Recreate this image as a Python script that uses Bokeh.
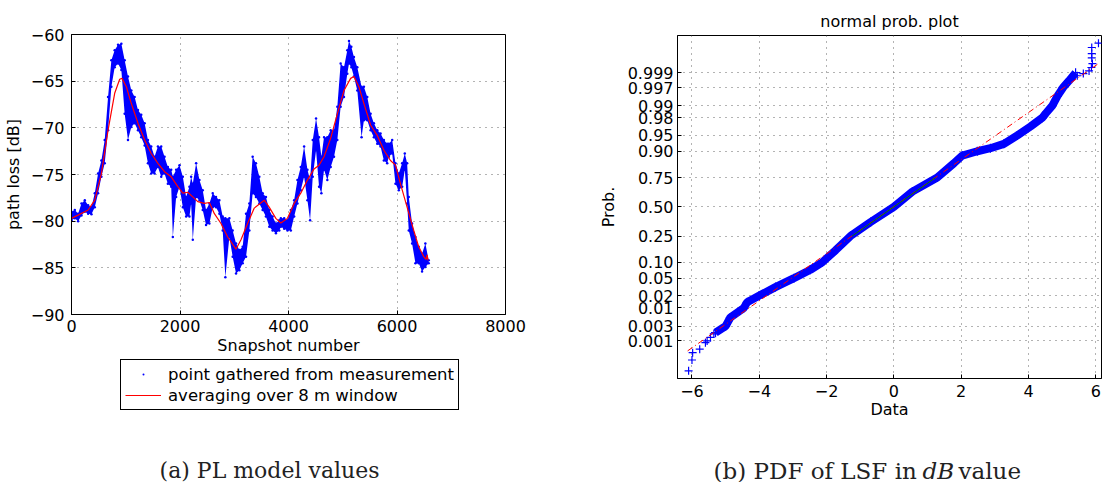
from statistics import NormalDist
from bokeh.plotting import figure
from bokeh.layouts import row, column
from bokeh.models import FixedTicker, Legend, LegendItem, ColumnDataSource
from bokeh.embed import file_html
from bokeh.resources import INLINE
from bokeh.core.properties import value

# ---------------- left panel: path loss vs snapshot ----------------
snap = [0, 61, 122, 184, 245, 306, 368, 429, 490, 551, 612, 674, 735, 796, 858, 919, 980,
        1041, 1103, 1164, 1225, 1286, 1348, 1409, 1470, 1531, 1593, 1654, 1715, 1776, 1838,
        1868, 1929, 1991, 2052, 2113, 2174, 2205, 2236, 2297, 2358, 2419, 2480, 2542, 2603,
        2664, 2726, 2787, 2836, 2910, 2971, 3033, 3094, 3155, 3217, 3278, 3339, 3400, 3462,
        3523, 3584, 3646, 3707, 3768, 3830, 3859, 3920, 3981, 4043, 4104, 4165, 4226, 4288,
        4349, 4398, 4447, 4508, 4563, 4606, 4655, 4716, 4778, 4839, 4900, 4961, 5023, 5084,
        5115, 5158, 5206, 5268, 5347, 5390, 5452, 5513, 5574, 5636, 5697, 5758, 5819, 5850,
        5911, 5972, 6033, 6095, 6144, 6187, 6217, 6278, 6340, 6401, 6462, 6523, 6584]
pl_upper = [-79.0, -78.8, -79.2, -78.1, -77.75, -78.3, -78.5, -77.0, -74.9, -73.5, -71.3,
            -66.7, -62.75, -61.7, -61.1, -61.0, -62.75, -64.5, -66.0, -66.7, -68.1, -68.6,
            -69.5, -71.3, -72.0, -73.1, -72.0, -72.0, -73.1, -74.2, -74.5, -75.25, -74.5,
            -74.0, -75.25, -77.4, -76.3, -75.25, -76.0, -73.8, -75.6, -76.7, -78.8, -78.1,
            -77.0, -77.4, -77.75, -79.5, -79.7, -79.7, -81.0, -82.4, -83.1, -82.75, -79.2,
            -78.1, -73.1, -73.8, -75.25, -77.0, -77.4, -78.8, -79.5, -80.25, -79.9, -79.7,
            -79.7, -79.9, -78.8, -77.75, -75.6, -74.2, -72.0, -74.5, -75.6, -71.3, -69.0,
            -71.0, -73.1, -71.0, -71.0, -70.25, -70.25, -67.75, -63.1, -63.5, -61.7, -60.7,
            -61.3, -62.4, -63.5, -65.6, -65.6, -66.7, -68.5, -69.5, -70.25, -70.6, -71.3,
            -71.7, -71.7, -71.3, -73.8, -74.9, -73.8, -72.75, -73.8, -77.4, -80.25, -81.7,
            -82.75, -83.5, -82.4, -84.2]
pl_lower = [-79.9, -79.7, -80.0, -79.4, -79.0, -79.2, -79.25, -78.5, -77.0, -75.25, -73.8,
            -70.25, -65.6, -63.5, -63.1, -63.8, -68.5, -71.3, -69.9, -69.5, -70.25, -71.0,
            -71.9, -73.8, -74.9, -74.9, -74.2, -75.25, -74.9, -76.0, -76.3, -81.7, -77.4,
            -76.3, -78.5, -79.5, -79.5, -78.1, -82.0, -77.4, -77.75, -78.8, -80.4, -80.25,
            -78.5, -78.5, -79.2, -81.0, -86.0, -81.7, -83.8, -85.6, -85.25, -84.5, -83.8,
            -81.0, -77.0, -77.4, -78.1, -78.8, -79.5, -80.6, -81.0, -81.3, -81.0, -80.6,
            -80.8, -81.0, -81.0, -79.5, -78.1, -76.7, -75.25, -77.75, -79.9, -75.25, -72.4,
            -76.3, -77.0, -74.5, -75.6, -74.2, -73.1, -71.3, -67.75, -66.7, -64.2, -63.1,
            -63.5, -64.5, -66.0, -71.0, -69.2, -69.2, -70.25, -71.0, -71.7, -72.0, -73.5,
            -73.8, -73.1, -72.75, -76.0, -76.7, -76.3, -74.5, -78.1, -81.0, -82.4, -84.5,
            -84.5, -85.4, -84.9, -84.5]

avg_snap = [0, 122, 306, 429, 551, 674, 796, 888, 931, 1011, 1103, 1225, 1348, 1470, 1593,
            1715, 1838, 1960, 2052, 2144, 2236, 2328, 2450, 2542, 2634, 2756, 2879, 3032,
            3124, 3246, 3369, 3553, 3644, 3767, 3859, 3981, 4104, 4226, 4349, 4471, 4563,
            4655, 4778, 4900, 5023, 5145, 5206, 5298, 5390, 5513, 5635, 5758, 5880, 5972,
            6064, 6186, 6309, 6401, 6493, 6535, 6554, 6572]
avg_pl = [-79.7, -79.35, -78.8, -77.75, -74.9, -70.25, -66.3, -64.8, -64.7, -65.6, -67.4,
          -69.5, -71.3, -72.75, -73.8, -74.7, -75.25, -76.3, -77.0, -76.9, -77.4, -77.9,
          -78.1, -78.0, -79.2, -80.25, -81.7, -83.0, -82.0, -80.25, -78.6, -77.75, -78.5,
          -79.7, -80.2, -79.7, -78.1, -77.0, -75.6, -74.4, -74.0, -73.1, -71.1, -68.5,
          -66.0, -64.7, -64.5, -65.6, -67.4, -69.7, -70.8, -72.4, -73.5, -74.0, -76.0,
          -78.5, -81.0, -82.75, -83.8, -84.1, -83.6, -84.2]

left_xticks = [0, 2000, 4000, 6000, 8000]
left_yticks = [-90, -85, -80, -75, -70, -65, -60]
legend_labels = ["point gathered from measurement", "averaging over 8 m window"]

# ---------------- right panel: normal probability plot ----------------
band_data = [-5.30, -5.00, -4.86, -4.46, -4.36, -4.01, -3.52, -2.97, -2.48, -2.13, -1.73,
             -1.29, -0.69, 0.0, 0.55, 1.29, 1.78, 2.03, 2.48, 2.87, 3.27, 3.67, 4.06, 4.41,
             4.51, 4.71, 4.86, 5.03, 5.20, 5.40]
band_quant = [-2.90, -2.75, -2.55, -2.33, -2.20, -2.05, -1.85, -1.645, -1.45, -1.28, -1.0,
              -0.674, -0.35, 0.0, 0.35, 0.674, 1.0, 1.18, 1.28, 1.35, 1.45, 1.645, 1.85,
              2.05, 2.15, 2.33, 2.55, 2.75, 2.90, 3.09]
tail_data = [-6.10, -6.00, -5.98, -5.77, -5.60, -5.55, -5.45, -5.35,
             5.45, 5.63, 5.80, 5.87, 5.90, 5.88, 5.88, 5.88, 6.08]
tail_quant = [-3.78, -3.53, -3.36, -3.28, -3.13, -3.09, -3.01, -2.93,
              3.02, 3.07, 3.13, 3.21, 3.30, 3.43, 3.53, 3.67, 3.77]
ref_data = [-6.13, 6.08]
ref_quant = [-3.32, 3.30]
quart_data = [-1.24, 1.24]
quart_quant = [-0.674, 0.674]

prob_ticks = [0.001, 0.003, 0.01, 0.02, 0.05, 0.10, 0.25, 0.50, 0.75, 0.90, 0.95, 0.98,
              0.99, 0.997, 0.999]
prob_labels = ["0.001", "0.003", "0.01", "0.02", "0.05", "0.10", "0.25", "0.50", "0.75",
               "0.90", "0.95", "0.98", "0.99", "0.997", "0.999"]
right_xticks = [-6, -4, -2, 0, 2, 4, 6]

cap_a = "(a) PL model values"
cap_b_text = ["(b) PDF of LSF in", "dB", "value"]
cap_b_style = ["normal", "italic", "normal"]

FONT = "DejaVu Sans"
SERIF = "DejaVu Serif"


def style(p):
    p.background_fill_color = "white"
    p.border_fill_color = "white"
    p.outline_line_color = "black"
    p.outline_line_width = 1
    for ax in (p.xaxis, p.yaxis):
        ax.axis_line_color = "black"
        ax.major_tick_line_color = "black"
        ax.major_tick_in = 4
        ax.major_tick_out = 0
        ax.minor_tick_line_color = None
        ax.major_label_text_font = FONT
        ax.major_label_text_font_size = "16px"
        ax.major_label_text_color = "black"
        ax.axis_label_text_font = FONT
        ax.axis_label_text_font_size = "16px"
        ax.axis_label_text_font_style = "normal"
        ax.axis_label_text_color = "black"
    p.grid.grid_line_color = "#666666"
    p.grid.grid_line_dash = "1 5"
    p.grid.grid_line_width = 1


def blank(w, h, x0, x1):
    # strip whose frame is aligned (by the column layout) with the plot frame above;
    # its x range is expressed in page pixels across that frame
    f = figure(width=w, height=h, x_range=(x0, x1), y_range=(0, h), output_backend="svg",
               toolbar_location=None, min_border=0, min_border_left=0, min_border_right=0,
               min_border_top=0, min_border_bottom=0)
    f.axis.visible = False
    f.grid.visible = False
    f.outline_line_color = None
    f.background_fill_color = "white"
    f.border_fill_color = "white"
    return f


# ---- left plot
left = figure(width=590, height=358, x_range=(0, 8000), y_range=(-90, -60),
              output_backend="svg", toolbar_location=None,
              min_border_left=70, min_border_right=85, min_border_top=34,
              min_border_bottom=44)
style(left)
left.xaxis.ticker = FixedTicker(ticks=left_xticks)
left.yaxis.ticker = FixedTicker(ticks=left_yticks)
left.xaxis.axis_label = "Snapshot number"
left.yaxis.axis_label = "path loss [dB]"
left.xaxis.major_label_standoff = 5
left.xaxis.axis_label_standoff = 1
left.yaxis.major_label_standoff = 7
left.yaxis.axis_label_standoff = 5

left.varea(x=snap, y1=pl_lower, y2=pl_upper, fill_color="#0000ff", fill_alpha=1)
left.scatter(snap + snap, pl_upper + pl_lower, marker="circle", size=2.5,
             fill_color="#0000ff", line_color=None)
left.line(avg_snap, avg_pl, line_color="#ff0000", line_width=1.2)

# ---- legend + caption (a) strip under the left plot (frame spans page x 70..505)
lbot = blank(590, 124, 70, 505)
# legend keys: one sample each, kept below the strip's visible range
dot_key = lbot.scatter(x=[100], y=[-50], marker="dot", size=6, line_color="#0000ff",
                       fill_color="#0000ff", line_width=2)
line_key = lbot.line(x=[100, 120], y=[-50, -50], line_color="#ff0000", line_width=1.2)
legend = Legend(items=[LegendItem(label=legend_labels[0], renderers=[dot_key]),
                       LegendItem(label=legend_labels[1], renderers=[line_key])],
                location=(49, 72), orientation="vertical",
                border_line_color="black", border_line_width=1, border_line_alpha=1,
                background_fill_color="white", background_fill_alpha=1,
                padding=4, spacing=1, margin=0, glyph_width=36, glyph_height=20,
                label_height=20, label_standoff=7,
                label_text_font=FONT, label_text_font_size="16.5px",
                label_text_color="black")
lbot.add_layout(legend)
lbot.text(x=[268.5], y=[12], text=[cap_a], text_font=value(SERIF), text_font_size="22px",
          text_align="center", text_baseline="alphabetic", text_color="#222222")

# ---- right plot
nd = NormalDist()
tick_z = [round(nd.inv_cdf(pv), 6) for pv in prob_ticks]

right = figure(width=512, height=432, x_range=(-6.43, 6.17), y_range=(-3.956, 3.947),
               output_backend="svg", toolbar_location=None,
               min_border_left=87, min_border_right=1, min_border_top=35,
               min_border_bottom=54)
style(right)
right.title.text = "normal prob. plot"
right.title.align = "center"
right.title.text_font = FONT
right.title.text_font_size = "16px"
right.title.text_font_style = "normal"
right.title.text_color = "black"
right.xaxis.ticker = FixedTicker(ticks=right_xticks)
right.yaxis.ticker = FixedTicker(ticks=tick_z)
right.yaxis.major_label_overrides = {z: lab for z, lab in zip(tick_z, prob_labels)}
right.xaxis.axis_label = "Data"
right.yaxis.axis_label = "Prob."
right.xaxis.major_label_standoff = 6
right.xaxis.axis_label_standoff = 0
right.yaxis.major_label_standoff = 4
right.yaxis.axis_label_standoff = 7

right.line(band_data, band_quant, line_color="#0000ff", line_width=8)
right.scatter(band_data, band_quant, marker="cross", size=9, line_color="#0000ff",
              line_width=1.2)
right.scatter(tail_data, tail_quant, marker="cross", size=8, line_color="#0000ff",
              line_width=1.2)
right.line(ref_data, ref_quant, line_color="#ff0000", line_width=1, line_dash="6 3 1 3")
right.line(quart_data, quart_quant, line_color="#008000", line_width=1)

# ---- caption (b) strip (frame spans page x 677..1101)
rbot = blank(512, 50, 677, 1101)
cap_src = ColumnDataSource(dict(x=[713, 922, 958], y=[12, 12, 12], text=cap_b_text,
                                style=cap_b_style))
rbot.text(x="x", y="y", text="text", source=cap_src, text_font=value(SERIF),
          text_font_size="23px", text_font_style="style", text_align="left",
          text_baseline="alphabetic", text_color="#222222")

layout = row(column(left, lbot), column(right, rbot))
open("out.html", "w").write(file_html(layout, INLINE))
